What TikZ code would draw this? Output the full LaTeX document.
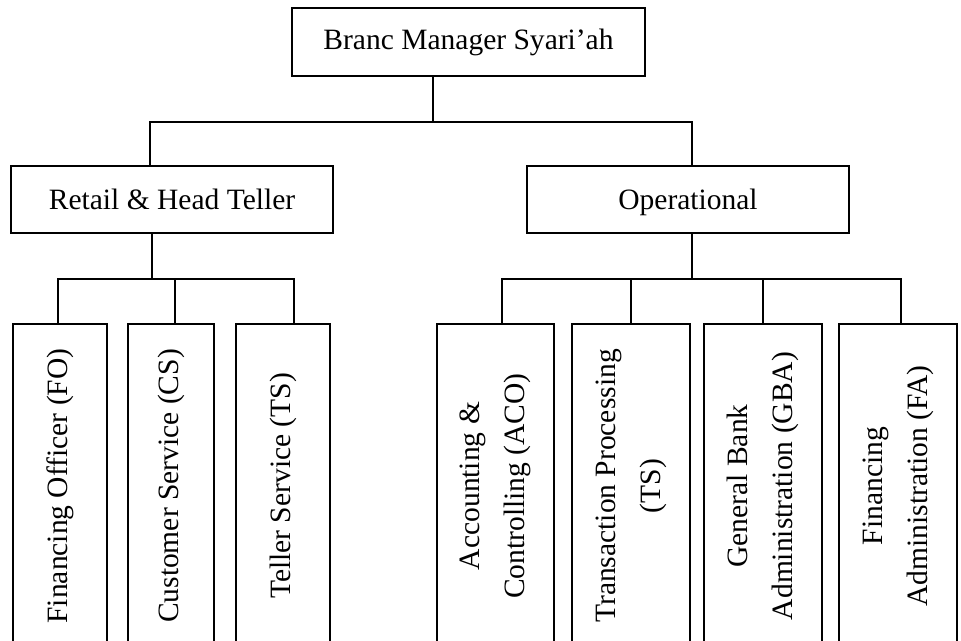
\documentclass[tikz,border=0pt]{standalone}
\usepackage{fontspec}
\setmainfont{Liberation Serif}
\usepackage{tikz}

\begin{document}
\begin{tikzpicture}[x=0.02cm,y=-0.02cm,line width=0.75pt,
  box/.style={draw,rectangle,inner sep=0pt,font=\fontsize{16.8}{25.6}\selectfont},
  head/.style={box,text depth=0pt,minimum width=6.44cm,minimum height=1.34cm},
  unit/.style={box,rotate=90,minimum width=6.48cm,align=center}]
\useasboundingbox (0,0) rectangle (961,640);
\clip (0,0) rectangle (961,640);
% boxes
\node[box,minimum width=7.06cm,minimum height=1.36cm] (bm) at (468.5,42) {Branc Manager Syari’ah};
\node[head] (rht) at (172,199.5) {Retail \& Head Teller};
\node[head] (op) at (688,199.5) {Operational};
% staff boxes run on past the bottom edge
\node[unit,minimum height=1.88cm] (fo) at (60,486) {Financing Officer (FO)};
\node[unit,minimum height=1.72cm] (cs) at (171,486) {Customer Service (CS)};
\node[unit,minimum height=1.88cm] (ts) at (283,486) {Teller Service (TS)};
\node[unit,minimum height=2.34cm] (aco) at (495.5,486) {Accounting \&\\Controlling (ACO)};
\node[unit,minimum height=2.36cm] (tp) at (631,486) {Transaction Processing\\(TS)};
\node[unit,minimum height=2.36cm] (gba) at (763,486) {General Bank\\Administration (GBA)};
\node[unit,minimum height=2.36cm] (fa) at (898,486) {Financing\\Administration (FA)};
% joints
\coordinate (j0) at (433,122);
\coordinate (jl) at (150,122);
\coordinate (jr) at (692,122);
\coordinate (kl) at (152,279);
\coordinate (kr) at (692,279);
\coordinate (kfo) at (58,279);
\coordinate (kcs) at (175,279);
\coordinate (kts) at (294,279);
\coordinate (kaco) at (502,279);
\coordinate (ktp) at (631,279);
\coordinate (kgba) at (763,279);
\coordinate (kfa) at (901,279);
% lines
\draw (bm.south -| j0) -- (j0);
\draw (rht.north -| jl) -- (jl) -- (jr) -- (op.north -| jr);
\draw (rht.south -| kl) -- (kl);
\draw (op.south -| kr) -- (kr);
\draw (fo.east -| kfo) -- (kfo) -- (kts) -- (ts.east -| kts);
\draw (kcs) -- (cs.east -| kcs);
\draw (aco.east -| kaco) -- (kaco) -- (kfa) -- (fa.east -| kfa);
\draw (ktp) -- (tp.east -| ktp);
\draw (kgba) -- (gba.east -| kgba);
\end{tikzpicture}
\end{document}
